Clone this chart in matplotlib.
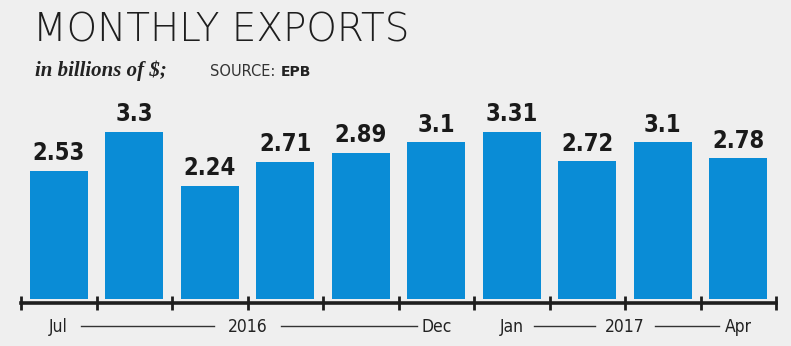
import matplotlib
matplotlib.use("Agg")
import matplotlib.pyplot as plt

months = ["Jul", "Aug", "Sep", "Oct", "Nov", "Dec", "Jan", "Feb", "Mar", "Apr"]
values = [2.53, 3.3, 2.24, 2.71, 2.89, 3.1, 3.31, 2.72, 3.1, 2.78]
value_labels = ["2.53", "3.3", "2.24", "2.71", "2.89", "3.1", "3.31", "2.72", "3.1", "2.78"]
axis_labels = [("Jul", 0), ("2016", 2.5), ("Dec", 5), ("Jan", 6), ("2017", 7.5), ("Apr", 9)]

BG = "#efefef"
BAR = "#0a8cd6"

fig = plt.figure(figsize=(7.91, 3.46), dpi=100, facecolor=BG)
ax = fig.add_axes([21/791, 47/346, 755/791, 200/346])
ax.set_facecolor(BG)

x = list(range(len(values)))
ax.bar(x, values, width=0.77, color=BAR, zorder=2)
ax.set_xlim(-0.5, 9.5)
ax.set_ylim(0, 200/50.6)

for xi, v, lab in zip(x, values, value_labels):
    ax.annotate(lab, (xi, v), xytext=(0, 4), textcoords="offset points",
                ha="center", va="bottom", fontsize=17, fontweight="bold",
                family="DejaVu Sans", fontstretch="condensed", color="#1a1a1a")

for s in ["top", "right", "left"]:
    ax.spines[s].set_visible(False)
ax.spines["bottom"].set_position(("outward", 3))
ax.spines["bottom"].set_linewidth(2.6)
ax.spines["bottom"].set_color("#1e1e1e")
ax.set_xticks([i - 0.5 for i in range(11)])
ax.set_xticklabels([])
ax.tick_params(axis="x", direction="inout", length=10, width=2, color="#1e1e1e")
ax.set_yticks([])

for lab, pos in axis_labels:
    ax.text(pos, -0.14, lab, transform=ax.get_xaxis_transform(), ha="center",
            va="center", fontsize=12.5, family="DejaVu Sans", fontstretch="condensed",
            color="#222222")
line_segs = [(0.3, 2.05), (2.95, 4.75), (6.3, 7.1), (7.9, 8.75)]
for a, b in line_segs:
    ax.plot([a, b], [-0.135, -0.135], transform=ax.get_xaxis_transform(),
            color="#333333", lw=1.0, clip_on=False)

fig.text(33/791, 1 - 41/346, "MONTHLY EXPORTS", fontsize=28, family="DejaVu Sans",
         fontweight=200, color="#1e1e1e", va="baseline")
fig.text(35/791, 1 - 76/346, "in billions of $;", fontsize=15, family="Liberation Serif",
         fontweight="bold", style="italic", color="#222222", va="baseline")
fig.text(210/791, 1 - 76/346, "SOURCE:", fontsize=10.5, family="DejaVu Sans",
         color="#333333", va="baseline")
fig.text(281/791, 1 - 76/346, "EPB", fontsize=10, family="DejaVu Sans",
         fontweight="bold", color="#222222", va="baseline")

fig.savefig("out.png", dpi=100, facecolor=BG)
